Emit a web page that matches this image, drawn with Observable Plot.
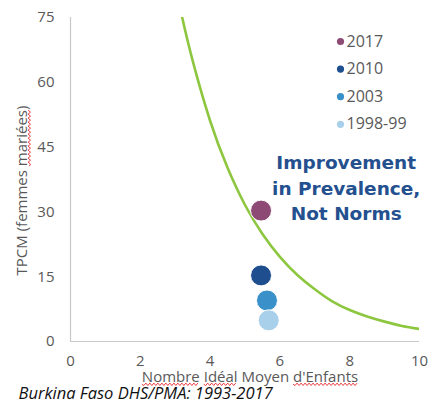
<!DOCTYPE html>
<html><head><meta charset="utf-8">
<script src="https://cdn.jsdelivr.net/npm/d3@7"></script>
<script src="https://cdn.jsdelivr.net/npm/@observablehq/plot@0.6"></script>
<style>
html,body{margin:0;padding:0;background:#fff;}
svg{display:block;}
</style></head>
<body><div id="chart"></div>
<script>
// Survey rounds
const years = ["2017", "2010", "2003", "1998-99"];
const idealChildren = [5.46, 5.46, 5.63, 5.68];
const mcpr = [30.3, 15.3, 9.5, 4.9];
const colors = ["#8d4a74", "#1f4e8f", "#3a90c8", "#a8d0ea"];

// Green reference curve
const curveX = [3.2, 3.5, 4.0, 4.5, 5.0, 5.5, 6.0, 6.5, 7.0, 7.5, 8.0, 8.5, 9.0, 9.5, 10.0];
const curveY = [75.0, 65.0, 51.1, 40.2, 31.6, 24.9, 19.6, 15.4, 12.1, 9.3, 7.3, 5.8, 4.6, 3.6, 2.9];

const xTicks = [0, 2, 4, 6, 8, 10];
const yTicks = [0, 15, 30, 45, 60, 75];

const xLabelParts = [["Nombre", true], [" ", false], ["Idéal", true], [" Moyen ", false], ["d'Enfants", true]];
const yLabelParts = [["TPCM (femmes ", false], ["mariées", true], [")", false]];
const xLabel = xLabelParts.map(d => d[0]).join("");
const yLabel = yLabelParts.map(d => d[0]).join("");
const caption = "Burkina Faso DHS/PMA: 1993-2017";
const note = "Improvement\nin Prevalence,\nNot Norms";

const points = years.map((y, i) => ({year: y, x: idealChildren[i], y: mcpr[i], c: colors[i]}));
const curve = curveX.map((x, i) => ({x, y: curveY[i]}));

const gray = "#595959";
const font = "'Open Sans', Lato, sans-serif";

const legendMarks = years.flatMap((y, i) => [
  Plot.dot([y], {frameAnchor: "top-right", dx: -79, dy: 24 + i * 27.6, r: 3.6, fill: colors[i]}),
  Plot.text([y], {frameAnchor: "top-right", dx: -73, dy: 24 + i * 27.6, textAnchor: "start", lineAnchor: "middle",
    fill: gray, fontSize: 16})
]);

const plot = Plot.plot({
  width: 429,
  height: 403,
  marginLeft: 70,
  marginRight: 10,
  marginTop: 17,
  marginBottom: 62,
  style: {fontFamily: font, fontSize: "15px", color: gray, background: "#fff"},
  x: {domain: [0, 10], ticks: xTicks, label: null},
  y: {domain: [0, 75], ticks: yTicks, label: null},
  marks: [
    Plot.axisX({ticks: xTicks, tickSize: 0, tickPadding: 14, label: null, fontSize: 15, fill: gray}),
    Plot.axisY({ticks: yTicks, tickSize: 0, tickPadding: 16, label: null, fontSize: 15, fill: gray}),
    Plot.ruleX([0], {stroke: "#c8c8c8", strokeWidth: 1.2}),
    Plot.ruleY([0], {stroke: "#c8c8c8", strokeWidth: 1.2}),
    Plot.line(curve, {x: "x", y: "y", stroke: "#8dc63f", strokeWidth: 2.6, curve: "natural", clip: true}),
    Plot.dot(points, {x: "x", y: "y", r: 10.5, fill: "c", stroke: "white", strokeWidth: 1}),
    ...legendMarks,
    Plot.text([note], {x: [7.9], y: [35.9], text: [note], fill: "#24508f", fontWeight: "bold", fontSize: 18.5,
      lineHeight: 1.38, textAnchor: "middle", lineAnchor: "middle", fontFamily: "'DejaVu Sans', sans-serif"}),
    Plot.text([xLabel], {frameAnchor: "bottom", dx: 5, dy: 36, lineAnchor: "middle", fill: gray, fontSize: 15, className: "xlab"}),
    Plot.text([yLabel], {frameAnchor: "left", rotate: -90, dx: -48, dy: 11, textAnchor: "middle", lineAnchor: "middle",
      fill: gray, fontSize: 15, className: "ylab"}),
    Plot.text([caption], {frameAnchor: "bottom-left", dx: -52, dy: 52, textAnchor: "start", lineAnchor: "middle", fill: "#111",
      fontSize: 16.5, fontStyle: "italic", fontFamily: "'Open Sans', sans-serif"})
  ]
});

document.getElementById("chart").append(plot);

// spell-check style red wavy underlines under the marked words
function squiggle(cls, parts) {
  const t = d3.select(plot).select(`g.${cls} text`);
  if (t.empty()) return;
  t.text(null);
  const spans = parts.map(([s, wavy]) => ({node: t.append("tspan").text(s).node(), wavy}));
  const parent = t.node().parentNode;
  const tf = t.attr("transform");
  for (const sp of spans) {
    if (!sp.wavy) continue;
    const b = sp.node.getBBox();
    const y0 = b.y + b.height * 0.9;
    let d = `M${b.x},${y0}`;
    const step = 2;
    let k = 0;
    for (let x = b.x + step; x <= b.x + b.width; x += step, k++) d += `L${x},${y0 + (k % 2 ? -1.2 : 1.2)}`;
    const p = d3.select(parent).append("path").attr("d", d).attr("fill", "none")
      .attr("stroke", "#e8262a").attr("stroke-width", 0.9);
    if (tf) p.attr("transform", tf);
  }
}
squiggle("xlab", xLabelParts);
squiggle("ylab", yLabelParts);
</script>
</body></html>
